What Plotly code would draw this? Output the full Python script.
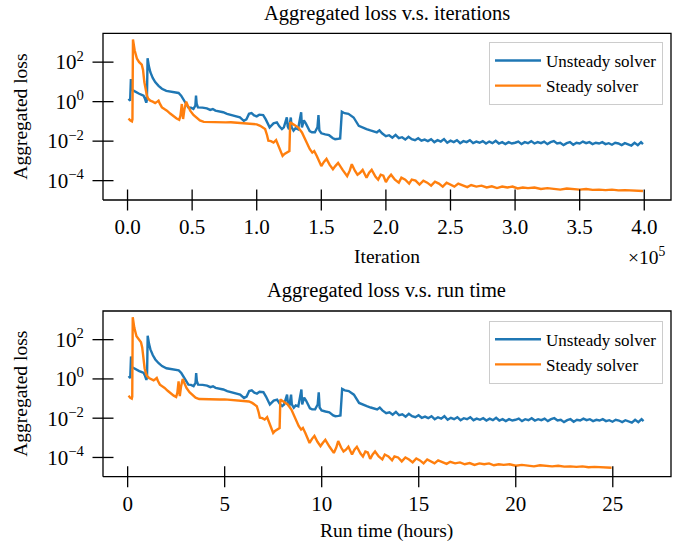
import math
import plotly.graph_objects as go

# ---------------- data ----------------
unsteady_iter_e5 = [
    0.008, 0.02, 0.026, 0.032, 0.046, 0.07, 0.09, 0.11, 0.124, 0.135, 0.145, 0.15,
    0.155, 0.165, 0.176, 0.195, 0.214, 0.24, 0.266, 0.30, 0.33, 0.36, 0.395, 0.415,
    0.43, 0.45, 0.47, 0.49, 0.51, 0.525, 0.53, 0.535, 0.545, 0.58, 0.614, 0.64,
    0.66, 0.68, 0.71, 0.74, 0.77, 0.80, 0.82, 0.85, 0.87, 0.90, 0.92, 0.94,
    0.96, 0.98, 1.00, 1.02, 1.05, 1.07, 1.10, 1.13, 1.156, 1.175, 1.195, 1.21,
    1.233, 1.24, 1.25, 1.264, 1.27, 1.285, 1.30, 1.32, 1.344, 1.35, 1.365, 1.38,
    1.395, 1.41, 1.427, 1.45, 1.47, 1.478, 1.485, 1.50, 1.53, 1.56, 1.59, 1.607,
    1.63, 1.646, 1.659, 1.68, 1.71, 1.75, 1.79, 1.82, 1.85, 1.88, 1.91, 1.93,
    1.95, 1.97, 2.00,
    2.025, 2.05, 2.075, 2.10, 2.125, 2.15, 2.175, 2.20, 2.225, 2.25, 2.275, 2.30,
    2.325, 2.35, 2.375, 2.40, 2.425, 2.45, 2.475, 2.50, 2.525, 2.55, 2.575, 2.60,
    2.625, 2.65, 2.675, 2.70, 2.725, 2.75, 2.775, 2.80, 2.825, 2.85, 2.875, 2.90,
    2.925, 2.95, 2.975, 3.00, 3.025, 3.05, 3.075, 3.10, 3.125, 3.15, 3.175, 3.20,
    3.225, 3.25, 3.275, 3.30, 3.325, 3.35, 3.375, 3.40, 3.425, 3.45, 3.475, 3.50,
    3.525, 3.55, 3.575, 3.60, 3.625, 3.65, 3.675, 3.70, 3.725, 3.75, 3.775, 3.80,
    3.825, 3.85, 3.875, 3.90, 3.925, 3.95, 3.975, 3.99,
]
unsteady_loss = [
    1.4, 1.1, 14, 4.0, 3.6, 2.8, 2.5, 2.2, 2.0, 1.4, 0.89, 1.26,
    158, 63, 32, 16, 9.8, 6.3, 4.5, 3.5, 3.2, 3.0, 2.75, 2.0,
    1.38, 0.79, 0.51, 0.50, 0.43, 0.63, 2.0, 0.79, 0.51, 0.50, 0.46, 0.38,
    0.42, 0.35, 0.32, 0.29, 0.24, 0.21, 0.195, 0.17, 0.16, 0.107, 0.126, 0.24,
    0.26, 0.20, 0.18, 0.22, 0.21, 0.126, 0.050, 0.079, 0.089, 0.056, 0.041, 0.050,
    0.158, 0.056, 0.040, 0.158, 0.050, 0.034, 0.045, 0.040, 0.29, 0.050, 0.112, 0.079,
    0.050, 0.032, 0.028, 0.028, 0.050, 0.21, 0.035, 0.025, 0.022, 0.020, 0.014, 0.0126,
    0.0132, 0.0138, 0.31, 0.26, 0.24, 0.158, 0.060, 0.048, 0.041, 0.035, 0.030, 0.028,
    0.035, 0.025, 0.018,
    0.020, 0.0151, 0.0209, 0.0141, 0.0158, 0.0120, 0.0166, 0.0126, 0.0112, 0.0141, 0.0105, 0.0120,
    0.0100, 0.0126, 0.0089, 0.0112, 0.0095, 0.0126, 0.0083, 0.0105, 0.0089, 0.0112, 0.0079, 0.0100,
    0.0089, 0.0112, 0.0079, 0.0095, 0.0083, 0.0100, 0.0076, 0.0095, 0.0079, 0.0105, 0.0076, 0.0089,
    0.0071, 0.0089, 0.0076, 0.0083, 0.0095, 0.0071, 0.0089, 0.0079, 0.0100, 0.0076, 0.0089, 0.0079,
    0.0095, 0.0071, 0.0089, 0.0100, 0.0076, 0.0083, 0.0063, 0.0079, 0.0089, 0.0066, 0.0083, 0.0076,
    0.0095, 0.0079, 0.0089, 0.0071, 0.0083, 0.0076, 0.0089, 0.0071, 0.0079, 0.0066, 0.0083, 0.0076,
    0.0063, 0.0079, 0.0071, 0.0060, 0.0083, 0.0063, 0.0089, 0.0071,
]

steady_iter_e5 = [
    0.008, 0.02, 0.034, 0.038, 0.042, 0.055, 0.073, 0.09, 0.11, 0.12, 0.13, 0.14,
    0.15, 0.16, 0.176, 0.195, 0.214, 0.23, 0.24, 0.25, 0.266, 0.285, 0.305, 0.33,
    0.356, 0.38, 0.40, 0.41, 0.42, 0.425, 0.43, 0.44, 0.454, 0.47, 0.485, 0.51,
    0.537, 0.56, 0.59, 0.62, 0.65, 0.68, 0.72, 0.76, 0.80, 0.85, 0.90, 0.95,
    0.98, 1.00, 1.027, 1.05, 1.065, 1.08, 1.09, 1.11, 1.13, 1.15, 1.165, 1.18,
    1.20, 1.215, 1.233, 1.253, 1.259, 1.28, 1.30, 1.32, 1.35, 1.37, 1.39, 1.41,
    1.43, 1.445, 1.465, 1.48, 1.50, 1.52, 1.54, 1.565, 1.59, 1.61, 1.63, 1.665,
    1.70, 1.72, 1.736, 1.76, 1.78, 1.80, 1.82, 1.85, 1.87, 1.89, 1.92, 1.94,
    1.96, 1.98, 2.00, 2.02, 2.04, 2.07, 2.10, 2.12, 2.15, 2.18, 2.20, 2.23,
    2.26, 2.29, 2.32, 2.35, 2.38, 2.41, 2.44, 2.47, 2.50, 2.53, 2.56, 2.60,
    2.63, 2.66, 2.70, 2.74, 2.78, 2.82, 2.86, 2.90, 2.94, 2.98, 3.02, 3.06,
    3.10, 3.15, 3.20, 3.25, 3.30, 3.35, 3.40, 3.45, 3.50, 3.55, 3.60, 3.65,
    3.70, 3.75, 3.80, 3.85, 3.90, 3.95, 3.99,
]
steady_loss = [
    0.141, 0.112, 0.100, 0.126, 1400, 400, 148, 100, 74, 40, 9.8, 3.5,
    2.0, 1.41, 1.12, 1.0, 0.85, 1.0, 1.12, 0.79, 0.51, 0.42, 0.35, 0.25,
    0.18, 0.141, 0.120, 0.20, 0.76, 0.32, 0.132, 0.40, 1.0, 0.56, 0.35, 0.21,
    0.141, 0.112, 0.095, 0.093, 0.095, 0.091, 0.093, 0.089, 0.091, 0.087, 0.083, 0.079,
    0.076, 0.071, 0.060, 0.050, 0.041, 0.020, 0.0105, 0.0100, 0.0085, 0.0112, 0.0063, 0.0032,
    0.00178, 0.00224, 0.00263, 0.00316, 0.089, 0.071, 0.063, 0.050, 0.0275, 0.0141, 0.0071, 0.0040,
    0.00263, 0.00316, 0.00178, 0.00112, 0.00055, 0.00089, 0.00126, 0.00063, 0.00038, 0.00056, 0.00079, 0.00035,
    0.00017, 0.00032, 0.00068, 0.00032, 0.00020, 0.00025, 0.00035, 0.00014, 0.00025, 0.00035, 0.000158, 0.000112,
    0.00020, 0.000178, 0.000085, 0.000141, 0.00020, 0.000112, 0.000079, 0.000141, 0.000112, 0.000071, 0.000112, 0.000100,
    0.000063, 0.000100, 0.000079, 0.000056, 0.000089, 0.000071, 0.000050, 0.000079, 0.000063, 0.000050, 0.000071, 0.000056,
    0.000047, 0.000060, 0.000050, 0.000056, 0.000045, 0.000052, 0.000042, 0.000050, 0.000045, 0.000050, 0.000040, 0.000045,
    0.000042, 0.000045, 0.000038, 0.000042, 0.000040, 0.000035, 0.000040, 0.000037, 0.000035, 0.000038, 0.000034, 0.000035,
    0.000033, 0.000035, 0.000032, 0.000033, 0.000032, 0.000030, 0.000030,
]

# total wall-clock run time of each solver for 4e5 iterations (hours)
unsteady_total_hours = 26.65
steady_total_hours = 25.0
total_iter_e5 = 4.0
unsteady_hours = [v * unsteady_total_hours / total_iter_e5 for v in unsteady_iter_e5]
steady_hours = [v * steady_total_hours / total_iter_e5 for v in steady_iter_e5]

iter_ticks = [0.0, 0.5, 1.0, 1.5, 2.0, 2.5, 3.0, 3.5, 4.0]
iter_tick_text = ["0.0", "0.5", "1.0", "1.5", "2.0", "2.5", "3.0", "3.5", "4.0"]
hour_ticks = [0, 5, 10, 15, 20, 25]
loss_ticks = [1e-4, 1e-2, 1e0, 1e2]
loss_tick_text = ["10<sup>−4</sup>", "10<sup>−2</sup>", "10<sup>0</sup>", "10<sup>2</sup>"]

BLUE = "#1f77b4"
ORANGE = "#ff7f0e"
FONT = "Liberation Serif"
LW = 2.4

# ---------------- layout geometry (page pixels) ----------------
W, H = 697, 551
AX_L, AX_R = 103.0, 671.0
TOP_T, TOP_B = 33.3, 200.0
BOT_T, BOT_B = 311.0, 476.7
xr1 = [-0.19, 4.207]
xr2 = [-1.27, 28.0]
yr = [-4.98, 3.46]
TICK_HALF = 10.5  # ticks cross the spine ("inout")


def fx(p):
    return p / W


def fy(p):
    return (H - p) / H


fig = go.Figure()
fig.add_trace(go.Scatter(x=unsteady_iter_e5, y=unsteady_loss, mode="lines", name="Unsteady solver",
                         line=dict(color=BLUE, width=LW), xaxis="x", yaxis="y", legend="legend"))
fig.add_trace(go.Scatter(x=steady_iter_e5, y=steady_loss, mode="lines", name="Steady solver",
                         line=dict(color=ORANGE, width=LW), xaxis="x", yaxis="y", legend="legend"))
fig.add_trace(go.Scatter(x=unsteady_hours, y=unsteady_loss, mode="lines", name="Unsteady solver",
                         line=dict(color=BLUE, width=LW), xaxis="x2", yaxis="y2", legend="legend2"))
fig.add_trace(go.Scatter(x=steady_hours, y=steady_loss, mode="lines", name="Steady solver",
                         line=dict(color=ORANGE, width=LW), xaxis="x2", yaxis="y2", legend="legend2"))

# frame + inout ticks drawn on a page-sized pixel overlay, positions derived from axis ranges and tick values
fx_, fy_ = [], []
for xr, xticks, top, bot in ((xr1, iter_ticks, TOP_T, TOP_B), (xr2, hour_ticks, BOT_T, BOT_B)):
    fx_ += [AX_L, AX_R, AX_R, AX_L, AX_L, None]
    fy_ += [bot, bot, top, top, bot, None]
    for v in xticks:
        px = AX_L + (v - xr[0]) / (xr[1] - xr[0]) * (AX_R - AX_L)
        fx_ += [px, px, None]
        fy_ += [bot - TICK_HALF, bot + TICK_HALF, None]
    for v in loss_ticks:
        py = bot - (math.log10(v) - yr[0]) / (yr[1] - yr[0]) * (bot - top)
        fx_ += [AX_L - TICK_HALF, AX_L + TICK_HALF, None]
        fy_ += [py, py, None]
fig.add_trace(go.Scatter(x=fx_, y=fy_, mode="lines", line=dict(color="#000000", width=1.3),
                         xaxis="x5", yaxis="y5", showlegend=False, hoverinfo="skip",
                         connectgaps=False))

TICKFONT = dict(family=FONT, size=21, color="#000000")
common_x = dict(showgrid=False, zeroline=False, showline=False, ticks="outside", ticklen=8,
                tickcolor="rgba(0,0,0,0)", tickfont=TICKFONT, domain=[fx(AX_L), fx(AX_R)])
common_y = dict(type="log", range=yr, showgrid=False, zeroline=False, showline=False,
                ticks="outside", ticklen=8, tickcolor="rgba(0,0,0,0)", ticklabelstandoff=6,
                tickfont=TICKFONT, tickmode="array", tickvals=loss_ticks, ticktext=loss_tick_text)

fig.update_layout(
    template="simple_white",
    width=W, height=H,
    margin=dict(l=0, r=0, t=0, b=0),
    paper_bgcolor="white", plot_bgcolor="rgba(0,0,0,0)",
    font=dict(family=FONT, color="#000000"),
    xaxis=dict(common_x, anchor="y", range=xr1, tickmode="array",
               tickvals=iter_ticks, ticktext=iter_tick_text),
    yaxis=dict(common_y, domain=[fy(TOP_B), fy(TOP_T)], anchor="x"),
    xaxis2=dict(common_x, anchor="y2", range=xr2, tickmode="array", tickvals=hour_ticks),
    yaxis2=dict(common_y, domain=[fy(BOT_B), fy(BOT_T)], anchor="x2"),
    xaxis5=dict(domain=[0, 1], range=[0, W], visible=False, anchor="y5", fixedrange=True),
    yaxis5=dict(domain=[0, 1], range=[H, 0], visible=False, anchor="x5", fixedrange=True),
    legend=dict(x=fx(663), y=fy(42), xanchor="right", yanchor="top", bgcolor="rgba(255,255,255,0.8)",
                bordercolor="#cccccc", borderwidth=1, itemwidth=46,
                font=dict(family=FONT, size=17, color="#000000")),
    legend2=dict(x=fx(663), y=fy(320.7), xanchor="right", yanchor="top", bgcolor="rgba(255,255,255,0.8)",
                 bordercolor="#cccccc", borderwidth=1, itemwidth=46,
                 font=dict(family=FONT, size=17, color="#000000")),
    showlegend=True,
)

ann_font = dict(family=FONT, size=19.5, color="#000000")
title_font = dict(family=FONT, size=20.5, color="#000000")
cx = fx((AX_L + AX_R) / 2)
fig.add_annotation(text="Aggregated loss v.s. iterations", xref="paper", yref="paper", x=cx, y=fy(13),
                   xanchor="center", yanchor="middle", showarrow=False, font=title_font)
fig.add_annotation(text="Aggregated loss v.s. run time", xref="paper", yref="paper", x=cx, y=fy(290),
                   xanchor="center", yanchor="middle", showarrow=False, font=title_font)
fig.add_annotation(text="Iteration", xref="paper", yref="paper", x=cx, y=fy(256),
                   xanchor="center", yanchor="middle", showarrow=False, font=ann_font)
fig.add_annotation(text="×10<sup>5</sup>", xref="paper", yref="paper", x=fx(668), y=fy(256),
                   xanchor="right", yanchor="middle", showarrow=False, font=ann_font)
fig.add_annotation(text="Run time (hours)", xref="paper", yref="paper", x=cx, y=fy(531),
                   xanchor="center", yanchor="middle", showarrow=False, font=ann_font)
fig.add_annotation(text="Aggregated loss", xref="paper", yref="paper", x=fx(21), y=fy((TOP_T + TOP_B) / 2),
                   xanchor="center", yanchor="middle", textangle=-90, showarrow=False, font=ann_font)
fig.add_annotation(text="Aggregated loss", xref="paper", yref="paper", x=fx(21), y=fy((BOT_T + BOT_B) / 2),
                   xanchor="center", yanchor="middle", textangle=-90, showarrow=False, font=ann_font)

fig.write_html("out.html")
